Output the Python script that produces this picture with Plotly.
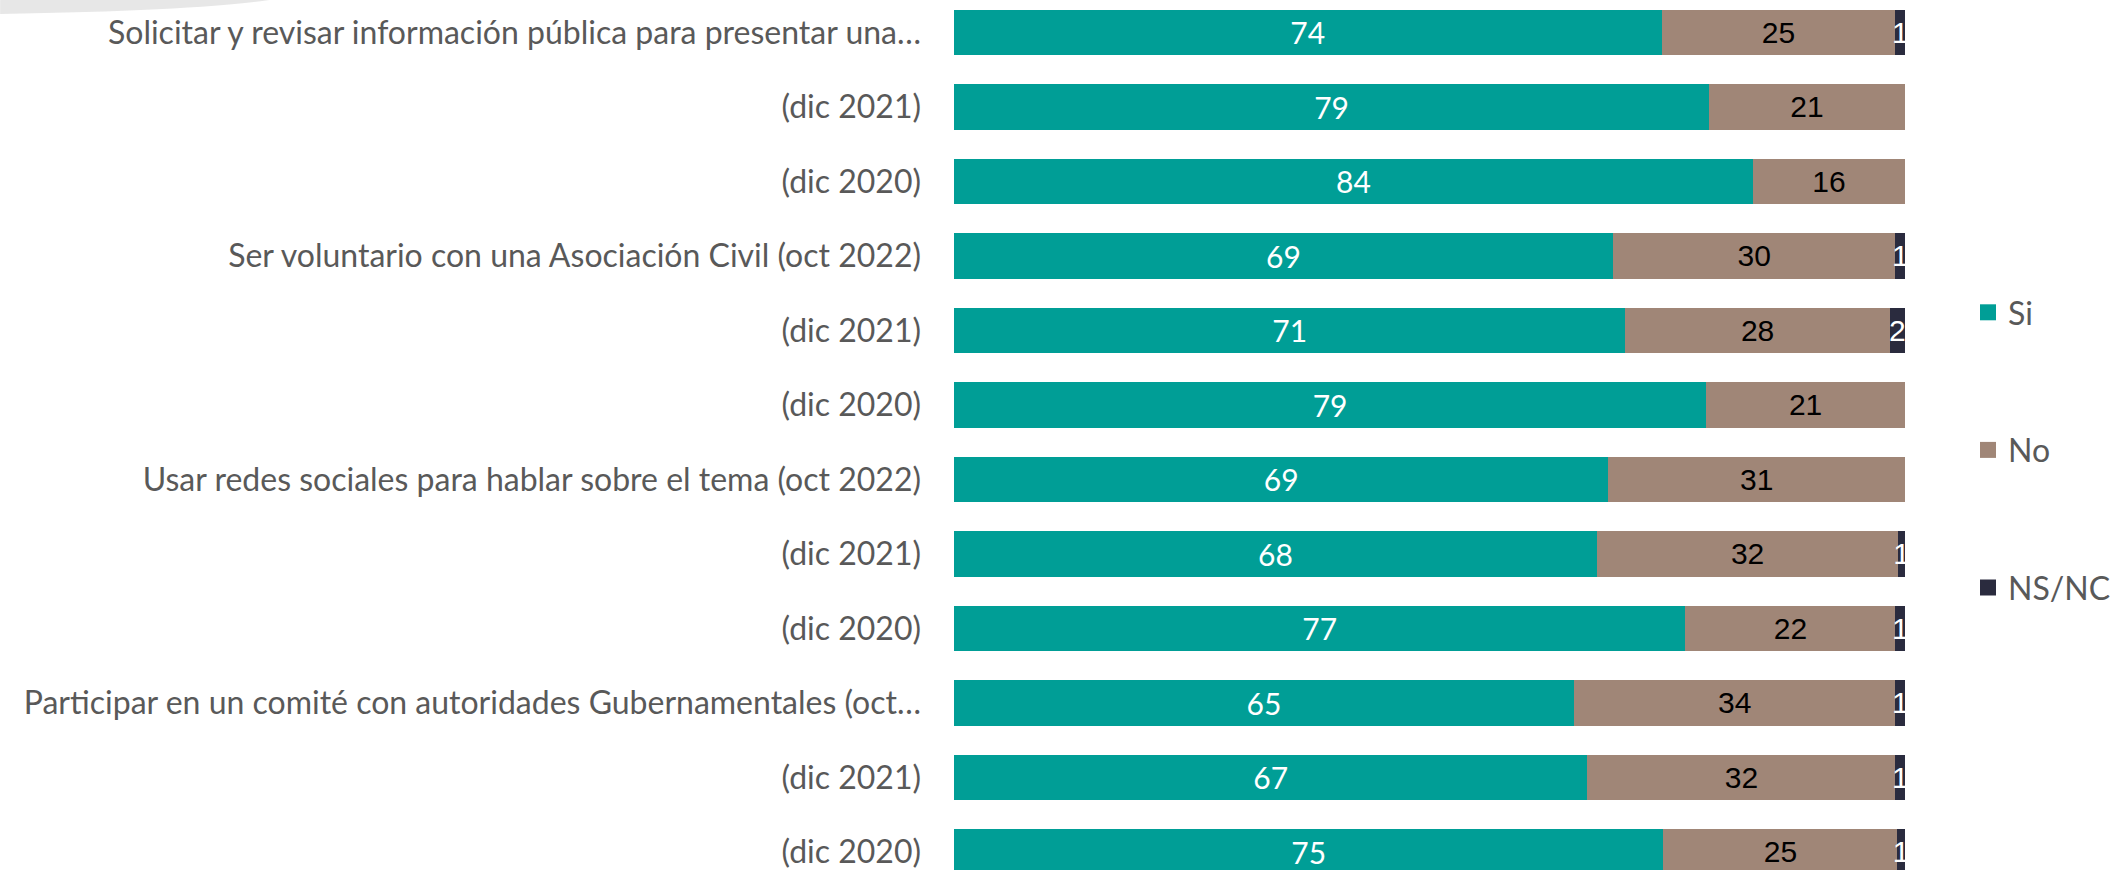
import plotly.graph_objects as go

# ---- data ----
categories = [
    "Solicitar y revisar información pública para presentar una…",
    "(dic 2021)",
    "(dic 2020)",
    "Ser voluntario con una Asociación Civil (oct 2022)",
    "(dic 2021)",
    "(dic 2020)",
    "Usar redes sociales para hablar sobre el tema (oct 2022)",
    "(dic 2021)",
    "(dic 2020)",
    "Participar en un comité con autoridades Gubernamentales (oct…",
    "(dic 2021)",
    "(dic 2020)",
]
si_values = [74.4, 79.4, 84.0, 69.3, 70.6, 79.1, 68.8, 67.6, 76.9, 65.2, 66.6, 74.6]
no_values = [24.6, 20.6, 16.0, 29.7, 27.8, 20.9, 31.2, 31.7, 22.1, 33.8, 32.4, 24.6]
nsnc_values = [1.0, 0.0, 0.0, 1.0, 1.6, 0.0, 0.0, 0.7, 1.0, 1.0, 1.0, 0.8]
series_names = ["Si", "No", "NS/NC"]
colors = ["#009E96", "#A08677", "#2A2B3E"]

positions = list(range(len(categories)))


def labels(vals):
    return [str(int(round(v))) if v > 0 else "" for v in vals]


fig = go.Figure()
text_fonts = [
    dict(family="Lato, sans-serif", size=30, color="white"),
    dict(family="Liberation Sans, Arial, sans-serif", size=30, color="black"),
    dict(family="Liberation Sans, Arial, sans-serif", size=30, color="white"),
]
for name, vals, col, tf in zip(series_names, [si_values, no_values, nsnc_values], colors, text_fonts):
    fig.add_trace(go.Bar(
        name=name,
        y=positions,
        x=vals,
        orientation="h",
        marker=dict(color=col, line=dict(width=0)),
        width=0.61,
        text=labels(vals),
        textposition="inside",
        insidetextanchor="middle",
        textangle=0,
        constraintext="none",
        textfont=tf,
        legendgroup=name,
        showlegend=False,
        cliponaxis=False,
        hoverinfo="x+name",
    ))

# legend entries with larger square swatches
for name, col in zip(series_names, colors):
    fig.add_trace(go.Scatter(
        name=name,
        x=[None], y=[None],
        mode="markers",
        marker=dict(symbol="square", size=20, color=col, line=dict(width=0)),
        legendgroup=name,
        showlegend=True,
        hoverinfo="skip",
    ))

fig.update_layout(
    width=2113,
    height=870,
    barmode="stack",
    paper_bgcolor="white",
    plot_bgcolor="white",
    margin=dict(l=954, r=208, t=0, b=0, autoexpand=False),
    xaxis=dict(range=[0, 100], visible=False, fixedrange=True, automargin=False),
    yaxis=dict(
        range=[11.242, -0.436],
        tickmode="array",
        tickvals=positions,
        ticktext=categories,
        showgrid=False,
        zeroline=False,
        showline=False,
        ticks="",
        automargin=False,
        ticklabelstandoff=32,
        ticklabeloverflow="allow",
        tickfont=dict(family="Lato, sans-serif", size=32, color="#595959"),
    ),
    legend=dict(
        xref="container",
        yref="container",
        x=1968 / 2113,
        xanchor="left",
        y=1 - 285 / 870,
        yanchor="top",
        traceorder="grouped",
        tracegroupgap=93,
        itemsizing="trace",
        font=dict(family="Lato, sans-serif", size=32, color="#595959"),
        bgcolor="rgba(0,0,0,0)",
    ),
    showlegend=True,
)

# decorative grey swoosh in the top-left corner
fig.add_shape(
    type="path",
    xref="paper", yref="paper",
    path="M -1.003,1.0 L -0.72,1.0 C -0.76,0.993 -0.86,0.986 -1.003,0.984 Z",
    fillcolor="rgba(215,215,215,0.6)",
    line=dict(width=0),
    layer="above",
)

fig.write_html(
    "out.html",
    config={"displayModeBar": False},
    post_script="document.body.style.margin='0';document.body.style.overflow='hidden';",
)
